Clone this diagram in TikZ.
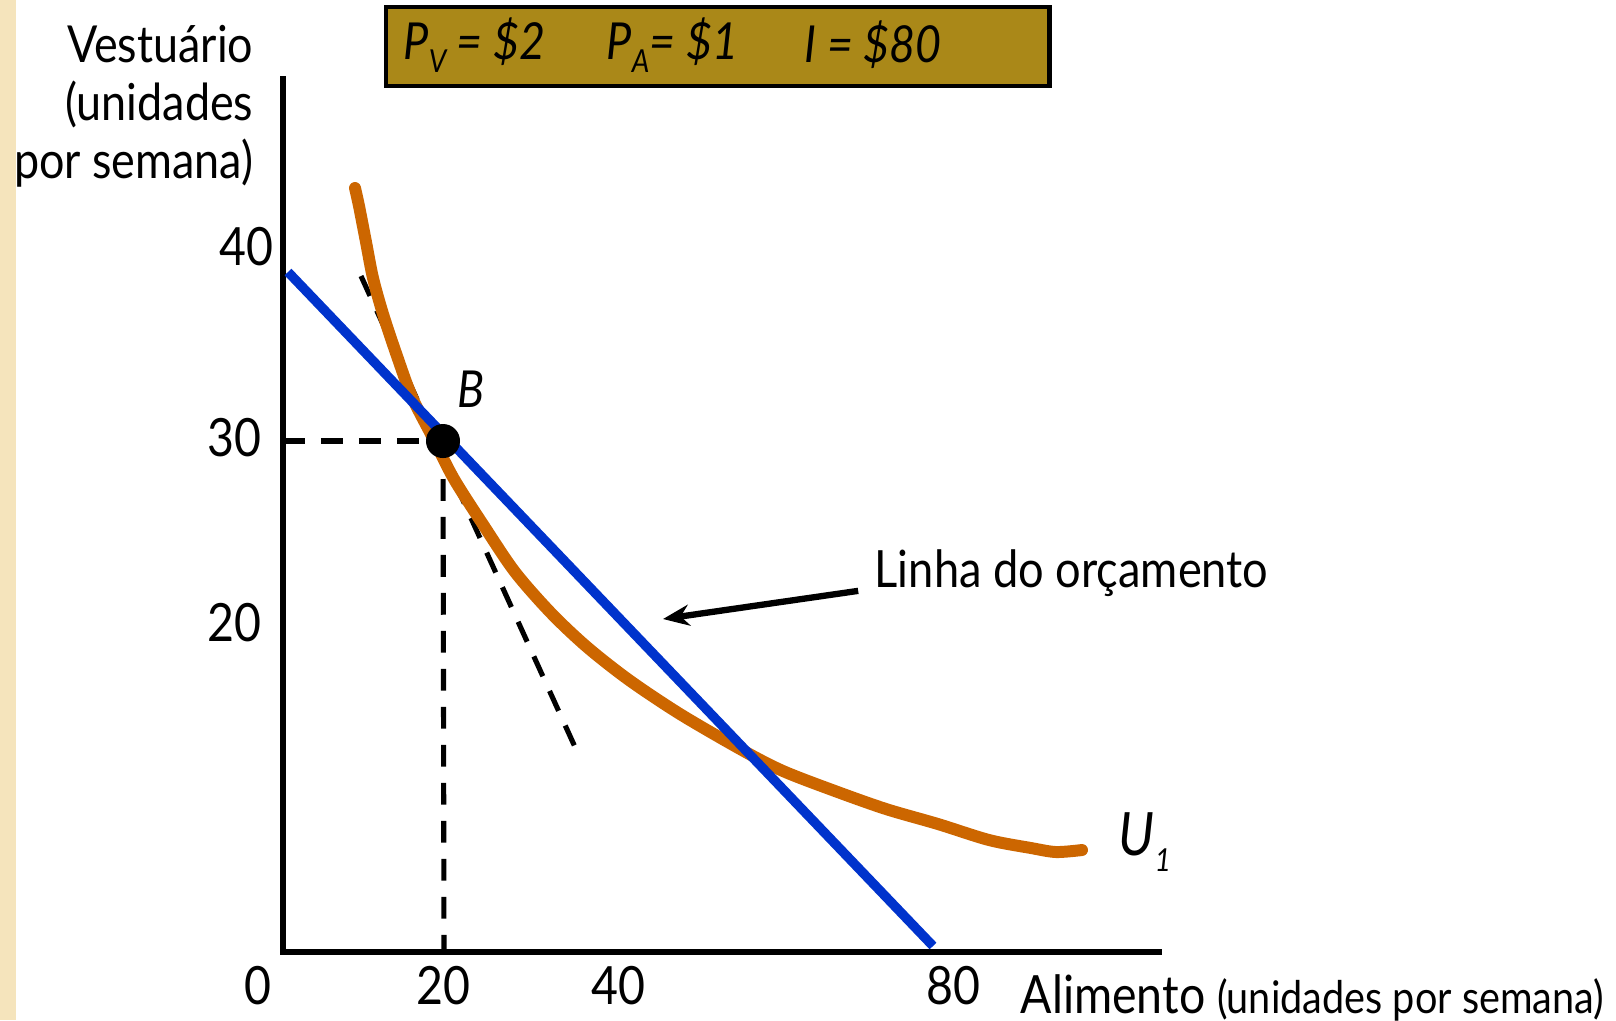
\documentclass[tikz,border=0pt]{standalone}
\usepackage{fontspec}
\setmainfont{Lato}[FakeStretch=0.88]
\usetikzlibrary{positioning,arrows.meta}
\definecolor{ouro}{RGB}{170,136,24}
\definecolor{laranja}{RGB}{204,102,0}
\definecolor{azul}{RGB}{0,51,204}
\definecolor{bege}{RGB}{245,228,188}
\newcommand{\subidx}[1]{\raisebox{-0.5ex}{\small #1}}

\begin{document}
\begin{tikzpicture}[
  x=0.01cm, y=-0.01cm,
  >=Stealth,
  eixo/.style={line width=1.45pt},
  orc/.style={azul, line width=2.7pt},
  indif/.style={laranja, line width=3.4pt, line cap=round, line join=round},
  guia/.style={dash pattern=on 6.2pt off 4.6pt, line width=1.45pt},
  seta/.style={->, line width=1.8pt, >={Stealth[length=7.5pt,width=6pt]}},
  rot/.style={font=\fontsize{15}{17}\selectfont, inner sep=0pt},
  preco/.style={rot, anchor=west, font=\fontsize{14.5}{17}\selectfont\itshape},
  titulo/.style={font=\fontsize{14.5}{16.5}\selectfont, align=right, inner sep=0pt},
  caixa/.style={rectangle, draw=black, fill=ouro, line width=1.2pt, minimum width=6.63cm, minimum height=0.79cm}
]
\useasboundingbox (0,0) rectangle (1616,1020);
\fill[bege] (0,0) rectangle (16,1020);

% header with prices and income
\node[caixa, anchor=north west] (hdr) at (384,5) {};
\node[preco] (pv) at (403,45) {P\subidx{V} = \$2};
\node[preco] (pa) at (606,45) {P\subidx{A}= \$1};
\node[preco] (renda) at (804,45) {I = \$80};

% axes
\coordinate (O) at (283,952);
\coordinate (ytop) at (283,76);
\coordinate (xend) at (1162,952);
\draw[eixo] (ytop) -- (O) -- (xend);

\node[titulo, anchor=east] (ylab) at (254,106) {Vestuário\\(unidades\\por semana)};
\node[rot, anchor=east] (y40) at (274,247) {40};
\node[rot, anchor=east] (y30) at (262,438) {30};
\node[rot, anchor=east] (y20) at (262,623) {20};
\node[rot] (x0) at (258,986) {0};
\node[rot] (x20) at (443,986) {20};
\node[rot] (x40) at (618,986) {40};
\node[rot] (x80) at (953,986) {80};
\node[rot, anchor=west] (xlab) at (1020,998)
  {Alimento {\fontsize{12.8}{15}\selectfont(unidades por semana)}};

% optimum B
\coordinate (B) at (443,441);
\coordinate (B0) at (283,441);
\coordinate (Bx) at (444,952);
\draw[guia] (B0) -- (B);
\draw[guia] (B) -- (Bx);

% tangent
\coordinate (t1) at (361,276);
\coordinate (t2) at (575,747);
\draw[guia] (t1) -- (t2);

% indifference curve U1
\draw[indif] plot[smooth] coordinates {(355,188) (359,206) (366,242) (373,278) (383,314)
  (397,356) (412,397) (433,438) (454,479) (484,526) (515,572) (551,613) (587,647)
  (629,680) (680,714) (742,750) (783,771) (835,791) (886,809) (938,824) (989,840)
  (1031,848) (1056,852) (1082,850)};
\node[rot, anchor=west, font=\fontsize{17}{19}\selectfont\itshape] (u1) at (1118,842) {U\subidx{1}};

% budget line
\coordinate (b1) at (288,272);
\coordinate (b2) at (933,946);
\draw[orc] (b1) -- (b2);
\coordinate (alvo) at (663,619);

\fill (B) circle[radius=0.17cm];
\node[rot, font=\fontsize{14.5}{17}\selectfont\itshape] (blab) at (471,389) {B};

\node[rot, anchor=west, font=\fontsize{14.6}{17}\selectfont] (linha) at (874,573) {Linha do orçamento};
\draw[seta] ([xshift=-4.5pt,yshift=-1pt]linha.base west) -- (alvo);
\end{tikzpicture}
\end{document}
